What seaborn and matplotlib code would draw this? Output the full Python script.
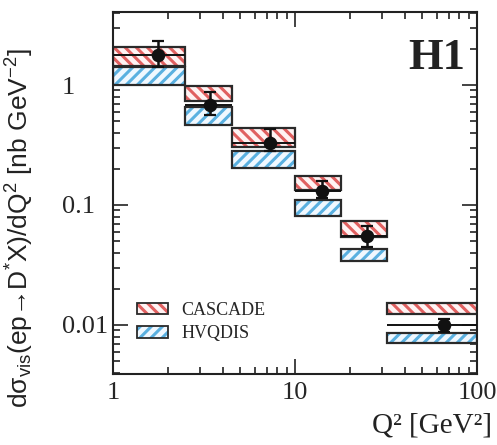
import numpy as np
import pandas as pd
import matplotlib
matplotlib.use("Agg")
import matplotlib.pyplot as plt
import seaborn as sns
from matplotlib.patches import Patch
from matplotlib.legend_handler import HandlerTuple
from matplotlib.ticker import NullFormatter, LogLocator, FixedLocator, FixedFormatter

# Q^2 bins [GeV^2]
bin_edges = [1.0, 2.5, 4.5, 10.0, 18.0, 32.0, 100.0]
q2_centre = [1.77, 3.4, 7.3, 14.1, 24.8, 66.0]

# measured cross section [nb GeV^-2]
xsec = [1.78, 0.68, 0.33, 0.131, 0.055, 0.0100]
xsec_err_up = [0.55, 0.20, 0.10, 0.026, 0.012, 0.0012]
xsec_err_dn = [0.36, 0.12, 0.05, 0.016, 0.010, 0.0012]

# model predictions: lower / upper edge of each band
cascade_lo = [1.44, 0.73, 0.306, 0.133, 0.0546, 0.0123]
cascade_hi = [2.08, 0.98, 0.436, 0.175, 0.0736, 0.0152]
hvqdis_lo = [1.00, 0.464, 0.202, 0.0817, 0.0338, 0.00704]
hvqdis_hi = [1.41, 0.66, 0.284, 0.110, 0.0430, 0.00853]

x_ticks = [1, 10, 100]
x_tick_labels = ["1", "10", "100"]
y_ticks = [0.01, 0.1, 1]
y_tick_labels = ["0.01", "0.1", "1"]

sns.set_theme(style="ticks")
plt.rcParams["font.family"] = ["Liberation Serif", "DejaVu Serif"]
plt.rcParams["mathtext.fontset"] = "custom"
plt.rcParams["mathtext.rm"] = "Liberation Sans"
plt.rcParams["mathtext.it"] = "Liberation Sans:italic"
plt.rcParams["mathtext.bf"] = "Liberation Sans:bold"
plt.rcParams["hatch.linewidth"] = 2.2

fig = plt.figure(figsize=(4.97, 4.45), dpi=100)
ax = fig.add_axes([113 / 497, 1 - 374 / 445, 364 / 497, 362 / 445])
ax.set_xscale("log")
ax.set_yscale("log")

left = np.array(bin_edges[:-1])
width = np.array(bin_edges[1:]) - left

red_hatch = "#e06060"
blue_hatch = "#5ab0e0"
red_face = "#fff3f3"
blue_face = "#f0f8ff"
edge = "#2a2a2a"

# model bands: filled background, coloured hatching, dark outline
for lo, hi, face, col, h in [(cascade_lo, cascade_hi, red_face, red_hatch, "\\\\\\"),
                             (hvqdis_lo, hvqdis_hi, blue_face, blue_hatch, "///")]:
    height = np.array(hi) - np.array(lo)
    ax.bar(left, height, width=width, bottom=lo, align="edge",
           color=face, linewidth=0, zorder=1.9)
    ax.bar(left, height, width=width, bottom=lo, align="edge",
           facecolor="none", edgecolor=col, linewidth=0, hatch=h, zorder=2.0)
    ax.bar(left, height, width=width, bottom=lo, align="edge",
           facecolor="none", edgecolor=edge, linewidth=1.6, zorder=2.1)

# data: bin width and error bars
xerr = np.array([np.array(q2_centre) - left,
                 np.array(bin_edges[1:]) - np.array(q2_centre)])
ax.errorbar(q2_centre, xsec, xerr=xerr, fmt="none", ecolor="#111111",
            elinewidth=1.4, capsize=0, zorder=3)
ax.errorbar(q2_centre, xsec, yerr=[xsec_err_dn, xsec_err_up], fmt="none",
            ecolor="#111111", elinewidth=1.8, capsize=4, capthick=1.6, zorder=3)
df = pd.DataFrame({"Q2": q2_centre, "xsec": xsec})
sns.scatterplot(data=df, x="Q2", y="xsec", ax=ax, s=95, color="#111111",
                edgecolor="#111111", linewidth=0, zorder=4, legend=False)

ax.set_xlim(1, 100)
ax.set_ylim(0.0039, 4.06)
ax.set_xlabel("")
ax.set_ylabel("")

ax.xaxis.set_major_locator(FixedLocator(x_ticks))
ax.xaxis.set_major_formatter(FixedFormatter(x_tick_labels))
ax.yaxis.set_major_locator(FixedLocator(y_ticks))
ax.yaxis.set_major_formatter(FixedFormatter(y_tick_labels))
ax.xaxis.set_minor_locator(LogLocator(base=10, subs=np.arange(2, 10)))
ax.yaxis.set_minor_locator(LogLocator(base=10, subs=np.arange(2, 10)))
ax.xaxis.set_minor_formatter(NullFormatter())
ax.yaxis.set_minor_formatter(NullFormatter())

for s in ax.spines.values():
    s.set_visible(True)
    s.set_linewidth(1.5)
    s.set_color("#222222")
ax.tick_params(which="both", direction="in", top=True, right=True,
               color="#222222", width=1.2)
ax.tick_params(which="major", length=11)
ax.tick_params(which="minor", length=5)
ax.tick_params(axis="x", which="major", labelsize=19, pad=6)
ax.tick_params(axis="y", which="major", labelsize=19, pad=37)
for lab in ax.get_yticklabels():
    lab.set_ha("left")

ax.text(0.967, 0.873, "H1", transform=ax.transAxes, ha="right", va="center",
        fontsize=32, fontweight="bold", color="#222222")

def legend_key(face, col, h):
    return (Patch(facecolor=face, linewidth=0),
            Patch(facecolor="none", edgecolor=col, hatch=h, linewidth=0),
            Patch(facecolor="none", edgecolor=edge, linewidth=1.3))

handles = [legend_key(red_face, red_hatch, "\\\\\\"),
           legend_key(blue_face, blue_hatch, "///")]
leg = ax.legend(handles, ["CASCADE", "HVQDIS"], loc="lower left",
                bbox_to_anchor=(0.066, 0.088), borderaxespad=0, borderpad=0,
                frameon=False, fontsize=13, handlelength=1.72,
                handleheight=0.63, handletextpad=0.72, labelspacing=0.35,
                handler_map={tuple: HandlerTuple(ndivide=1, pad=0)})

fig.text(0.99, 0.015, "Q\u00b2 [GeV\u00b2]",
         ha="right", va="bottom", fontsize=21, color="#222222")
fig.text(20 / 497, 1 - 228 / 445,
         "d\u03c3$_{\\rm vis}$(ep\u2192D$^{*}$X)/dQ$^{2}$ [nb GeV$^{-2}$]",
         rotation=90, ha="center", va="center", fontsize=19,
         family=["Liberation Sans", "DejaVu Sans"], color="#222222")

fig.savefig("out.png", dpi=100, facecolor="white")
